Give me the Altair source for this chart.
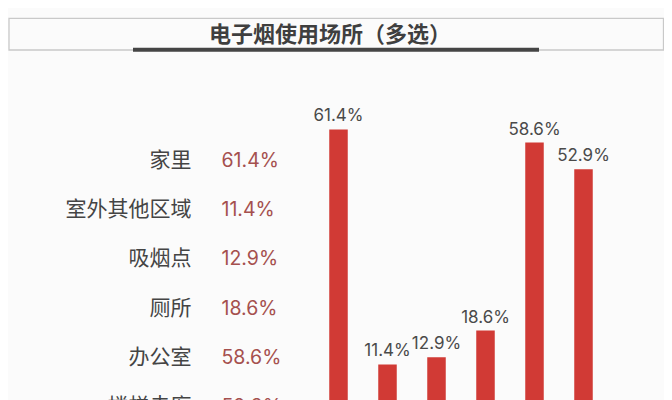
import altair as alt
import pandas as pd

categories = ["家里", "室外其他区域", "吸烟点", "厕所", "办公室", "楼梯走廊"]
values = [61.4, 11.4, 12.9, 18.6, 58.6, 52.9]
labels = ["61.4%", "11.4%", "12.9%", "18.6%", "58.6%", "52.9%"]
title_text = "电子烟使用场所（多选）"

df = pd.DataFrame({"place": categories, "pct": values, "label": labels})
one = pd.DataFrame({"t": [title_text]})

W, H = 656, 392
CJK = "Noto Sans CJK SC"
NUM = "Inter"

box = alt.Chart(one).mark_rect(fill="transparent", stroke="#c9c9c9", strokeWidth=1.3).encode(
    x=alt.value(1), x2=alt.value(655.5), y=alt.value(10.3), y2=alt.value(42)
)
underline = alt.Chart(one).mark_rule(color="#454545", strokeWidth=4).encode(
    x=alt.value(125), x2=alt.value(531), y=alt.value(41.7)
)
title = alt.Chart(one).mark_text(
    font=CJK, fontSize=22, fontWeight="bold", color="#3f3f3f", align="center", baseline="middle"
).encode(x=alt.value(322), y=alt.value(26.5), text="t:N")

row_scale = alt.Scale(type="point", range=[153, 399], padding=0)

list_labels = alt.Chart(df).mark_text(
    font=CJK, fontSize=21, color="#444444", align="right", baseline="middle"
).encode(
    x=alt.value(183.5),
    y=alt.Y("place:N", sort=categories, scale=row_scale, axis=None),
    text="place:N",
)
list_values = alt.Chart(df).mark_text(
    font=NUM, fontSize=19.5, color="#a5504e", align="left", baseline="middle"
).encode(
    x=alt.value(213.5),
    y=alt.Y("place:N", sort=categories, scale=row_scale, axis=None),
    text="label:N",
)

xs = alt.X("place:N", sort=categories, scale=alt.Scale(range=[306, 600], paddingInner=0, paddingOuter=0), axis=None)
ys = alt.Y("pct:Q", scale=alt.Scale(domain=[0, 80], range=[410, 34]), axis=None)

bars = alt.Chart(df).mark_bar(color="#d13a35", size=18.5, clip=True).encode(x=xs, y=ys)
bar_labels = alt.Chart(df).mark_text(
    font=NUM, fontSize=17, color="#4a4a4a", align="center", baseline="alphabetic", dy=-8
).encode(x=xs, y=ys, text="label:N")

chart = (
    alt.layer(box, underline, title, list_labels, list_values, bars, bar_labels)
    .resolve_scale(x="independent", y="independent")
    .properties(width=W, height=H, autosize=alt.AutoSizeParams(type="none"), padding=0, background="#fbfbfb")
    .configure_view(strokeWidth=0)
)

chart.save("out.html", embed_options={"renderer": "svg", "actions": False})
